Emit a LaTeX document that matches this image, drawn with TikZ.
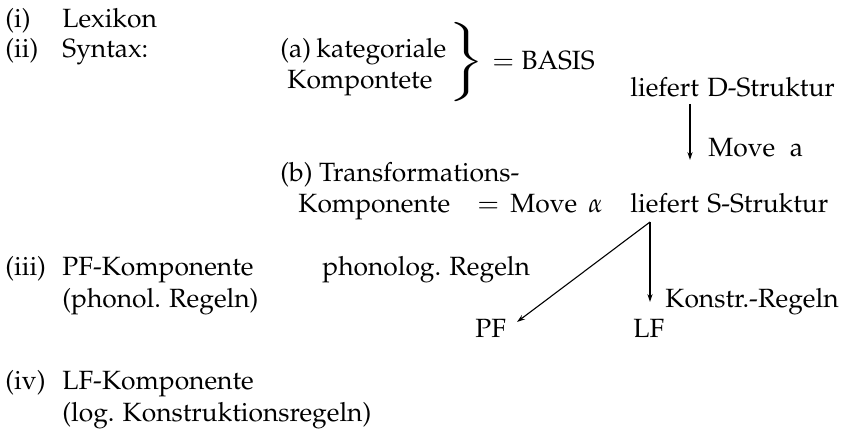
\documentclass[tikz,border=0pt]{standalone}
\usepackage[T1]{fontenc}
\usepackage{mathpazo}
\usepackage{graphicx}
\usetikzlibrary{arrows.meta}
\begin{document}
\begin{tikzpicture}[x=0.5pt,y=-0.5pt,
  txt/.style={anchor=base west,inner sep=0pt,font=\fontsize{13.2}{16}\selectfont},
  arr/.style={-{Stealth[length=4pt,width=2.6pt]},line width=0.55pt}]
\useasboundingbox (0,0) rectangle (851,437);

% list labels
\node[txt] (li)   at (5,28)  {(i)};
\node[txt] (lii)  at (5,58)  {(ii)};
\node[txt] (liii) at (5,276) {(iii)};
\node[txt] (liv)  at (5,390) {(iv)};

\node[txt] (lex) at (62,28) {Lexikon};
\node[txt] (syn) at (62,58) {Syntax:};

% syntax components
\node[txt] (ka)  at (280,58) {(a)\hspace{0.2em}kategoriale};
\node[txt] (kb)  at (287,89) {Kompontete};
\node[anchor=center,inner sep=0pt,font=\fontsize{13.2}{16}\selectfont] (br) at (465,62)
  {\scalebox{1.7}[1]{$\left.\rule[-16.5pt]{0pt}{33pt}\right\}$}};
\node[txt] (eq1) at (492,70) {$=$};
\node[txt] (bas) at (521,70) {BASIS};

\node[txt] (lf1) at (630,97) {liefert};
\node[txt] (ds)  at (707,97) {D-Struktur};
\node[txt] (mva) at (708,157) {Move\hspace{0.55em}a};

\node[txt] (tb)  at (280,182) {(b) Transformations-};
\node[txt] (kc)  at (298,213) {Komponente};
\node[txt] (eq2) at (477,213) {$=$};
\node[txt] (mv)  at (510,213) {Move};
\node[txt] (al)  at (588,213) {$\alpha$};
\node[txt] (lf2) at (630,213) {liefert};
\node[txt] (ss)  at (707,213) {S-Struktur};

% PF / LF components
\node[txt] (pfk) at (62,276)  {PF-Komponente};
\node[txt] (pfr) at (62,308)  {(phonol. Regeln)};
\node[txt] (phr) at (322,276) {phonolog. Regeln};
\node[txt] (kr)  at (665,308) {Konstr.-Regeln};
\node[txt] (pf)  at (475,338) {PF};
\node[txt] (lf)  at (633,338) {LF};

\node[txt] (lfk) at (62,390) {LF-Komponente};
\node[txt] (lfr) at (62,422) {(log. Konstruktionsregeln)};

% derivation arrows
\coordinate (dtop) at (690,104);
\coordinate (dbot) at (690,160);
\coordinate (stop) at (650,222);
\coordinate (pfend) at (517,322);
\coordinate (lfend) at (650,302);
\draw[arr] (dtop) -- (dbot);
\draw[arr] (stop) -- (pfend);
\draw[arr] (stop) -- (lfend);
\end{tikzpicture}
\end{document}
